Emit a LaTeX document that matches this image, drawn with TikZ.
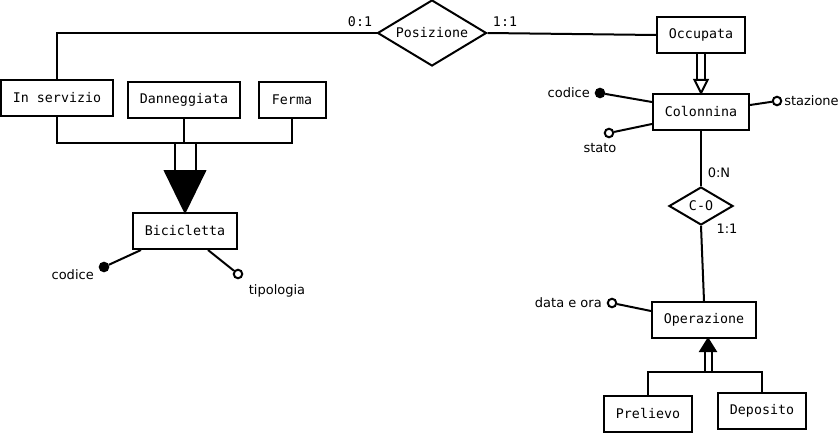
\documentclass[tikz,border=0pt]{standalone}
\usepackage{fontspec}
\setmainfont{DejaVu Sans}
\setmonofont{DejaVu Sans Mono}
\usetikzlibrary{shapes.geometric}

\begin{document}
\begin{tikzpicture}
		[x=1pt,y=-1pt,line width=2pt,label distance=3pt,
		%Styles
		entity/.style={draw,fill=white,font=\ttfamily\fontsize{13.3}{15}\selectfont,inner xsep=12pt,minimum height=36pt},
		relation/.style={diamond,draw,fill=white,font=\ttfamily\fontsize{13.3}{15}\selectfont,inner sep=0pt},
		card/.style={font=\ttfamily\fontsize{13.3}{15}\selectfont,inner sep=1pt},
		cardsf/.style={font=\fontsize{13}{15}\selectfont,inner sep=1pt},
		key/.style={circle,draw,fill=black,inner sep=0pt,minimum size=8.5pt,label={#1}},
		attr/.style={circle,draw,fill=white,inner sep=0pt,minimum size=8.5pt,label={#1}},
		every label/.style={font=\fontsize{13}{15}\selectfont,inner sep=1pt}
		]
		\useasboundingbox (0,0) rectangle (840,433);
		
		%Entities and relations
		\node[entity] (inserv) at (57,98) {In servizio};
		\node[entity] (dann) at (184,100) {Danneggiata};
		\node[entity,minimum width=67pt] (ferma) at (292,100) {Ferma};
		\node[entity] (bic) at (185,231) {Bicicletta};
		\node[relation,aspect=1.65,minimum width=109pt,minimum height=66pt] (pos) at (432,33) {Posizione};
		\node[entity] (occ) at (701,35) {Occupata};
		\node[entity] (col) at (701,112) {Colonnina};
		\node[relation,aspect=1.7,minimum width=64pt,minimum height=38pt] (co) at (701,206) {C-O};
		\node[entity] (op) at (704,320) {Operazione};
		\node[entity] (prel) at (648,414) {Prelievo};
		\node[entity] (dep) at (762,411) {Deposito};
		
		%Attributes
		\node[key={left:codice}] (colcod) at (600,93) {};
		\node[attr={[xshift=-9pt]below:stato}] (colstato) at (609,133) {};
		\node[attr={[xshift=-3pt]right:stazione}] (colstaz) at (777,101) {};
		\node[attr={left:data e ora}] (opdata) at (612,303) {};
		\node[key={[yshift=-8pt]left:codice}] (biccod) at (104,267) {};
		\node[attr={[xshift=39pt]below:tipologia}] (bictip) at (238,274) {};
		
		\draw (colcod) -- ([yshift=10pt]col.west);
		\draw (colstato) -- ([yshift=-12pt]col.west);
		\draw (colstaz) -- ([yshift=7pt]col.east);
		\draw (opdata) -- ([yshift=9pt]op.west);
		\draw (biccod) -- ([xshift=-44pt]bic.south);
		\draw (bictip) -- ([xshift=23pt]bic.south);
		
		%Relations
		\draw (pos.west) -| (inserv.north);
		\draw (pos.east) -- (occ.west);
		\draw (col.south) -- (co.north);
		\draw (co.south) -- (op.north);
		
		\node[card] (c01) at (360,22) {0:1};
		\node[card] (c11) at (505,22) {1:1};
		\node[cardsf] (c0n) at (719,173) {0:N};
		\node[cardsf] (c11b) at (727,229) {1:1};
		
		%Generalizations
		\coordinate (bicjoin) at (185,143);
		\coordinate (bicbase) at (185,171);
		\draw (inserv.south) |- (bicjoin) -| (ferma.south);
		\draw (dann.south) -- (dann.south |- bicjoin);
		\draw ([xshift=-10.5pt]bicjoin) -- ([xshift=-10.5pt]bicbase);
		\draw ([xshift=10.5pt]bicjoin) -- ([xshift=10.5pt]bicbase);
		\filldraw[line join=miter] (bic.north) -- ([xshift=-20pt]bicbase) -- ([xshift=20pt]bicbase) -- cycle;
		
		\coordinate (occbase) at (701,80);
		\draw ([xshift=-4pt]occ.south) -- ([xshift=-4pt]occbase);
		\draw ([xshift=4pt]occ.south) -- ([xshift=4pt]occbase);
		\filldraw[fill=white,line join=miter] (col.north) -- ([xshift=-6.5pt]occbase) -- ([xshift=6.5pt]occbase) -- cycle;
		
		\coordinate (opjoin) at (708,372);
		\coordinate (opbase) at (708,351);
		\draw (prel.north) |- (opjoin) -| (dep.north);
		\draw ([xshift=-3.5pt]opjoin) -- ([xshift=-3.5pt]opbase);
		\draw ([xshift=3.5pt]opjoin) -- ([xshift=3.5pt]opbase);
		\filldraw[line join=miter] ([xshift=4pt]op.south) -- ([xshift=-7.5pt]opbase) -- ([xshift=7.5pt]opbase) -- cycle;
	\end{tikzpicture}
\end{document}
